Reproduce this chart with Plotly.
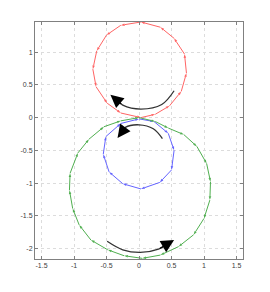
import plotly.graph_objects as go

# Polygon vertices
red_x = [0.03, 0.25, 0.47, 0.65, 0.73, 0.70, 0.54, 0.33, 0.03, -0.28, -0.50, -0.65, -0.71, -0.66, -0.49, -0.28, 0.03]
red_y = [0.00, 0.05, 0.18, 0.40, 0.68, 0.97, 1.21, 1.38, 1.46, 1.41, 1.26, 1.02, 0.74, 0.47, 0.22, 0.07, 0.00]

blue_x = [0.00, 0.23, 0.45, 0.54, 0.50, 0.32, 0.03, -0.25, -0.46, -0.55, -0.51, -0.28, 0.00]
blue_y = [-0.02, -0.06, -0.24, -0.50, -0.80, -0.99, -1.09, -1.01, -0.83, -0.56, -0.29, -0.09, -0.02]

green_x = [0.00, 0.25, 0.45, 0.69, 0.89, 1.04, 1.10, 1.09, 1.00, 0.84, 0.61, 0.33, 0.05, -0.23, -0.48,
           -0.74, -0.92, -1.02, -1.07, -1.06, -0.94, -0.77, -0.54, -0.28, 0.00]
green_y = [0.00, -0.06, -0.16, -0.26, -0.44, -0.70, -0.98, -1.26, -1.54, -1.79, -1.97, -2.10, -2.15, -2.11, -2.02,
           -1.87, -1.64, -1.39, -1.11, -0.85, -0.54, -0.33, -0.14, -0.05, 0.00]

# Curved direction arrows (last point = tip)
arc1_x = [0.54, 0.35, 0.03, -0.25, -0.44]
arc1_y = [0.41, 0.20, 0.13, 0.19, 0.35]
arc2_x = [0.36, 0.22, 0.00, -0.21, -0.33]
arc2_y = [-0.32, -0.17, -0.11, -0.15, -0.31]
arc3_x = [-0.49, -0.25, 0.02, 0.30, 0.54]
arc3_y = [-1.89, -2.02, -2.06, -2.01, -1.87]

x_ticks = [-1.5, -1, -0.5, 0, 0.5, 1, 1.5]
y_ticks = [-2, -1.5, -1, -0.5, 0, 0.5, 1]

fig = go.Figure()

for xs, ys, col in [(red_x, red_y, "rgb(255,100,100)"),
                    (blue_x, blue_y, "rgb(100,100,255)"),
                    (green_x, green_y, "rgb(80,175,80)")]:
    fig.add_trace(go.Scatter(
        x=xs, y=ys, mode="lines+markers",
        line=dict(color=col, width=1),
        marker=dict(symbol="arrow", size=4, angleref="previous", color=col),
        hoverinfo="skip", showlegend=False))

for xs, ys in [(arc1_x, arc1_y), (arc2_x, arc2_y), (arc3_x, arc3_y)]:
    fig.add_trace(go.Scatter(
        x=xs[:-1] + [xs[-2] + 0.6 * (xs[-1] - xs[-2])],
        y=ys[:-1] + [ys[-2] + 0.6 * (ys[-1] - ys[-2])],
        mode="lines", line=dict(color="#333333", width=1.3, shape="spline"),
        hoverinfo="skip", showlegend=False))
    fig.add_annotation(
        x=xs[-1], y=ys[-1], ax=xs[-2], ay=ys[-2],
        xref="x", yref="y", axref="x", ayref="y", text="",
        showarrow=True, arrowhead=2, arrowsize=2.0, arrowwidth=1.3, arrowcolor="black")

axis_common = dict(
    showgrid=True, gridcolor="#dcdcdc", griddash="dot", gridwidth=1,
    showline=True, linecolor="#808080", linewidth=1, mirror="ticks",
    ticks="inside", ticklen=3, tickcolor="#808080", automargin=False,
    zeroline=False, tickfont=dict(size=7, color="#404040", family="Liberation Sans"),
)

fig.update_xaxes(range=[-1.6, 1.6], tickvals=x_ticks, ticktext=[str(v) for v in x_ticks], **axis_common)
fig.update_yaxes(range=[-2.16, 1.46], tickvals=y_ticks, ticktext=[str(v) for v in y_ticks], **axis_common)

fig.update_layout(
    width=270, height=292,
    margin=dict(l=35, r=27, t=22, b=33),
    plot_bgcolor="white", paper_bgcolor="white",
)

fig.write_html("out.html", config={"displayModeBar": False},
               post_script="document.body.style.margin='0';document.body.style.overflow='hidden';")
